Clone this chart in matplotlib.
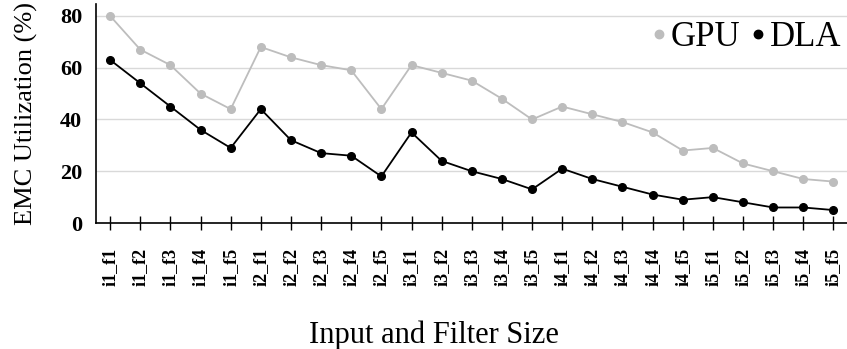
import matplotlib
matplotlib.use('Agg')
import matplotlib.pyplot as plt

plt.rcParams['font.family'] = ['Liberation Serif', 'DejaVu Serif']

# data
labels = ['i%d_f%d' % (i, f) for i in range(1, 6) for f in range(1, 6)]
gpu = [80, 67, 61, 50, 44, 68, 64, 61, 59, 44, 61, 58, 55, 48, 40,
       45, 42, 39, 35, 28, 29, 23, 20, 17, 16]
dla = [63, 54, 45, 36, 29, 44, 32, 27, 26, 18, 35, 24, 20, 17, 13,
       21, 17, 14, 11, 9, 10, 8, 6, 6, 5]
yticks = [0, 20, 40, 60, 80]

fig = plt.figure(figsize=(8.47, 3.49), dpi=100)
ax = fig.add_axes([0.1133, 0.361, 0.8867, 0.6275])

x = range(len(labels))
ax.plot(x, gpu, color='#bdbdbd', lw=1.3, marker='o', ms=5.5, label='GPU', zorder=3)
ax.plot(x, dla, color='black', lw=1.3, marker='o', ms=5.5, label='DLA', zorder=4)

ax.set_xlim(-0.47, 24.45)
ax.set_ylim(0, 84.6)
ax.set_yticks(yticks)
ax.set_yticklabels([str(v) for v in yticks], fontsize=16, fontweight='bold')
ax.set_xticks(list(x))
ax.set_xticklabels(labels, rotation=90, fontsize=13, fontweight='bold')
ax.tick_params(axis='y', length=0, pad=10)
ax.tick_params(axis='x', direction='inout', length=10, width=1, pad=13)

ax.grid(axis='y', color='#d9d9d9', lw=1)
ax.set_axisbelow(True)
for s in ['top', 'right']:
    ax.spines[s].set_visible(False)
ax.spines['left'].set_linewidth(1.2)
ax.spines['bottom'].set_linewidth(1.2)

ax.set_ylabel('EMC Utilization (%)', fontsize=19, labelpad=16)
ax.set_xlabel('Input and Filter Size', fontsize=22)
# the label sits left of the axes centre in the original
ax.xaxis.set_label_coords(0.45, -0.445)

leg = ax.legend(loc='upper right', bbox_to_anchor=(1.016, 1.0), ncol=2,
                frameon=False, fontsize=25, handlelength=0.4,
                handletextpad=0.15, columnspacing=0.3, borderaxespad=0.1,
                markerscale=1.1)
for h in leg.legend_handles:
    h.set_linestyle('none')

fig.savefig('out.png', dpi=100)
